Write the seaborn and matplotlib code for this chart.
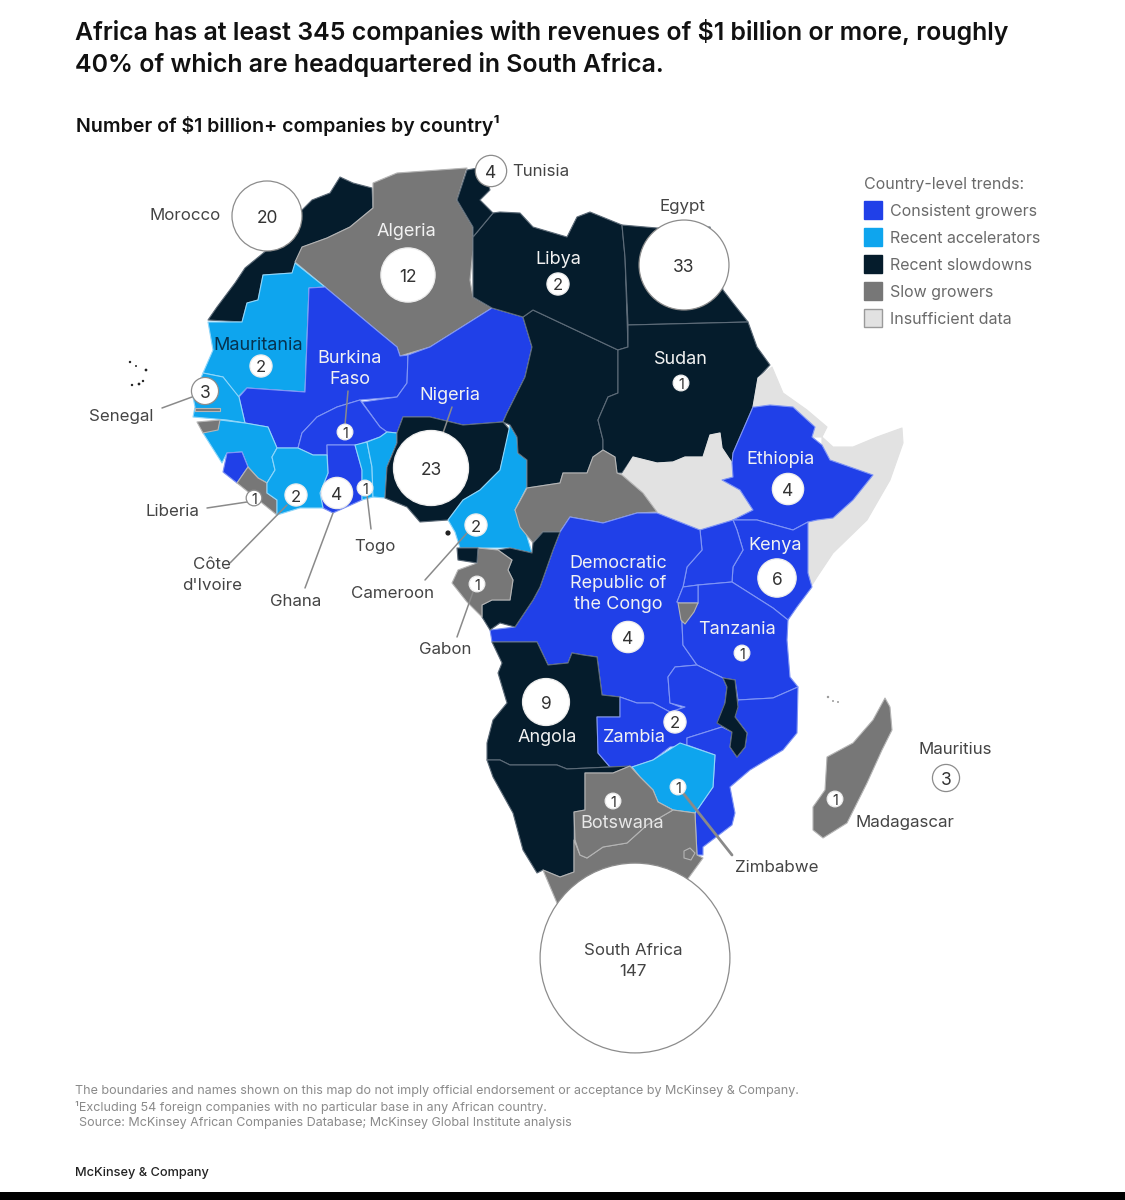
import matplotlib
matplotlib.use('Agg')
import matplotlib.pyplot as plt
from matplotlib.patches import Patch, Polygon
import pandas as pd
import seaborn as sns

# country outlines in image pixels
morocco = [(340,177),(353,183),(372,188),(373,208),(350,227),(327,238),(303,247),(297,263),(292,273),(263,275),(258,300),(247,303),(242,322),(208,320),(217,307),(235,283),(245,268),(267,250),(302,210),(312,200),(330,193)]
algeria = [(373,183),(397,173),(467,168),(457,200),(473,227),(473,250),(470,280),(473,297),(492,308),(457,330),(430,347),(400,356),(397,347),(380,333),(325,287),(295,262),(302,247),(327,238),(350,227),(373,208)]
mauritania = [(295,263),(325,287),(309,288),(305,392),(247,388),(238,397),(223,377),(203,373),(213,350),(208,322),(242,322),(247,303),(258,300),(263,275),(292,273)]
mali = [(309,288),(325,287),(380,333),(397,347),(400,356),(408,355),(407,383),(397,397),(360,400),(337,407),(317,417),(302,433),(298,448),(277,448),(268,427),(245,423),(239,397),(247,388),(305,392)]
niger = [(408,355),(430,347),(492,308),(523,317),(532,347),(525,377),(507,413),(503,422),(463,425),(430,417),(403,417),(397,433),(387,432),(380,427),(362,402),(397,397),(407,383)]
burkina = [(360,400),(380,427),(387,432),(380,437),(357,445),(327,445),(327,455),(313,455),(298,448),(302,433),(317,417),(337,407)]
ghana = [(327,445),(355,445),(362,470),(362,500),(333,513),(323,508),(320,493),(328,473)]
togo = [(355,445),(367,442),(372,467),(373,497),(362,500),(362,470)]
benin = [(367,442),(380,437),(387,432),(397,433),(397,443),(387,467),(385,498),(373,497),(372,467)]
nigeria = [(403,417),(430,417),(463,425),(503,422),(510,430),(500,470),(480,490),(463,500),(448,520),(420,522),(407,507),(385,498),(387,467),(397,443),(397,433)]
cameroon = [(510,425),(517,437),(518,453),(527,460),(527,487),(515,510),(523,523),(532,553),(510,548),(460,548),(455,532),(448,520),(463,500),(480,490),(500,470)]
chad = [(523,317),(533,310),(618,350),(618,393),(608,397),(598,420),(603,440),(603,450),(593,457),(587,473),(563,473),(560,483),(527,488),(527,460),(518,453),(517,437),(510,425),(503,422),(507,413),(525,377),(532,347)]
libya = [(492,308),(473,297),(473,250),(473,237),(493,213),(500,212),(520,213),(533,227),(567,237),(577,217),(590,212),(622,225),(625,257),(628,347),(618,350),(533,310),(523,317)]
tunisia = [(467,170),(483,167),(490,190),(480,200),(493,213),(473,237),(473,227),(457,200)]
egypt = [(622,225),(657,228),(710,227),(723,290),(733,303),(748,322),(628,325),(625,257)]
sudan = [(628,325),(748,322),(757,347),(770,365),(758,378),(753,407),(733,453),(732,463),(722,448),(720,433),(710,435),(703,457),(685,457),(673,462),(657,463),(633,457),(622,473),(617,473),(615,457),(603,450),(603,440),(598,420),(608,397),(618,393),(618,350),(628,347)]
south_sudan = [(622,475),(633,457),(657,463),(673,462),(685,457),(703,457),(710,435),(720,433),(722,448),(732,463),(733,477),(722,480),(740,490),(753,510),(733,520),(700,530),(657,513),(643,493)]
car = [(603,450),(615,457),(617,473),(622,475),(643,493),(657,512),(637,513),(603,523),(570,517),(560,532),(543,532),(533,543),(520,527),(515,510),(527,488),(560,483),(563,473),(587,473),(593,457)]
ethiopia = [(755,407),(770,405),(793,407),(815,427),(812,437),(822,445),(830,460),(873,475),(853,500),(833,518),(817,520),(808,522),(793,530),(757,520),(733,520),(753,510),(740,490),(722,480),(733,477),(732,463),(733,453),(753,407)]
eritrea = [(758,378),(772,367),(783,393),(807,410),(827,427),(822,437),(812,437),(815,427),(793,407),(770,405),(753,407)]
somalia = [(822,437),(833,447),(853,447),(877,437),(902,428),(903,443),(890,480),(867,520),(833,553),(817,577),(812,585),(808,573),(808,522),(817,520),(833,518),(853,500),(873,475),(830,460),(822,445)]
kenya = [(733,520),(757,520),(793,530),(808,522),(808,573),(812,587),(797,607),(788,620),(773,608),(732,582),(733,567),(743,550),(737,530)]
uganda = [(700,530),(733,520),(737,530),(743,550),(733,567),(732,582),(698,585),(683,587),(687,567),(702,550)]
tanzania = [(698,585),(732,582),(773,608),(788,620),(787,640),(790,677),(798,687),(773,698),(738,700),(735,680),(723,678),(697,665),(683,645),(682,623),(698,603)]
rwanda = [(683,587),(698,585),(698,603),(680,603),(677,602)]
burundi = [(678,603),(698,603),(694,612),(685,624),(681,620)]
drc = [(570,517),(603,523),(637,513),(657,513),(700,530),(702,550),(687,567),(683,587),(677,602),(680,603),(682,623),(683,645),(697,665),(675,667),(668,677),(670,703),(683,708),(685,715),(670,712),(653,703),(637,703),(620,697),(602,695),(597,657),(583,655),(572,653),(568,663),(548,665),(537,642),(492,642),(490,630),(515,627),(533,600),(540,587),(553,550),(560,532)]
congo = [(560,532),(553,550),(540,587),(533,600),(515,627),(500,623),(490,630),(482,617),(482,605),(492,600),(510,600),(513,580),(508,570),(512,560),(498,550),(510,548),(532,553),(533,543),(543,532)]
gabon = [(478,548),(498,550),(512,560),(508,570),(513,580),(510,600),(492,600),(482,605),(482,617),(467,602),(452,583),(458,570),(477,563)]
eq_guinea = [(457,548),(478,548),(477,563),(458,560)]
angola = [(492,642),(537,642),(548,665),(568,663),(572,653),(583,655),(597,657),(602,695),(620,697),(620,717),(597,717),(598,753),(610,767),(567,769),(557,765),(510,765),(500,760),(487,760),(487,743),(493,720),(507,703),(498,673),(502,663)]
zambia = [(620,697),(637,703),(653,703),(670,712),(685,707),(670,703),(668,677),(675,667),(697,665),(723,678),(727,687),(722,727),(687,738),(687,745),(670,747),(653,760),(632,767),(610,767),(598,753),(597,717),(620,717)]
malawi = [(723,678),(735,680),(738,707),(735,717),(747,733),(745,747),(737,757),(730,747),(732,732),(717,723),(725,703),(727,687)]
mozambique = [(738,700),(773,698),(798,687),(797,733),(783,750),(750,770),(730,787),(735,813),(732,825),(703,847),(703,855),(697,855),(695,813),(713,787),(715,755),(687,745),(687,738),(722,727),(732,732),(730,747),(737,757),(745,747),(747,733),(735,717)]
zimbabwe = [(632,767),(653,760),(680,743),(715,755),(713,787),(695,813),(673,810),(658,802),(653,790),(640,777)]
namibia = [(487,760),(500,760),(510,765),(557,765),(567,769),(610,767),(630,766),(613,773),(585,773),(585,810),(574,812),(574,872),(560,877),(543,870),(537,873),(523,850),(513,813),(493,777)]
botswana = [(585,773),(613,773),(630,766),(640,777),(653,790),(658,802),(673,810),(647,825),(627,843),(603,847),(587,858),(580,855),(575,840),(574,812),(585,810)]
south_africa = [(574,840),(580,855),(587,858),(603,847),(627,843),(647,825),(673,810),(695,813),(697,855),(703,858),(687,880),(640,920),(580,920),(557,903),(543,870),(560,877),(574,872)]
swaziland = [(684,851),(690,848),(695,853),(691,860),(684,858)]
senegal = [(203,373),(223,377),(239,397),(245,423),(227,420),(193,417),(195,407),(193,397)]
gambia = [(195,408),(220,408),(220,411),(195,411)]
guinea_bissau = [(197,422),(220,420),(218,430),(203,433)]
guinea = [(220,420),(245,423),(268,427),(277,448),(272,457),(275,470),(267,483),(258,478),(248,467),(242,452),(227,453),(222,463),(203,433)]
sierra_leone = [(227,453),(242,452),(248,467),(237,483),(223,472)]
liberia = [(237,483),(248,467),(258,478),(267,483),(267,493),(277,500),(277,515)]
cote_divoire = [(272,457),(277,448),(298,448),(313,455),(327,455),(328,473),(320,493),(323,508),(300,508),(277,515),(277,500),(267,493),(267,483),(275,470)]
madagascar = [(885,698),(890,707),(892,730),(882,750),(867,783),(847,823),(823,838),(813,830),(813,807),(825,790),(827,757),(853,743),(873,720)]

# company counts and where the circle sits
bubble_countries = ['Morocco','Tunisia','Algeria','Egypt','Libya','Mauritania','Sudan','Senegal','Burkina Faso','Nigeria','Ethiopia','Liberia',"Cote d'Ivoire",'Ghana','Togo','Cameroon','Gabon','Kenya','DRC','Tanzania','Zambia','Angola','Zimbabwe','Botswana','Madagascar','Mauritius','South Africa']
bubble_counts = [20,4,12,33,2,2,1,3,1,23,4,1,2,4,1,2,1,6,4,1,2,9,1,1,1,3,147]
bubble_x = [267,491,408,684,558,261,681,205,345,431,788,254,296,337,365,476,477,777,628,742,675,546,678,613,835,946,635]
bubble_y = [216,171,275,265,284,366,383,391,432,468,489,498,495,493,488,525,584,578,637,653,722,702,787,801,799,778,958]
outlined = ['Morocco','Tunisia','Egypt','Senegal','Liberia','Mauritius','South Africa']

legend_labels = ['Consistent growers','Recent accelerators','Recent slowdowns','Slow growers','Insufficient data']

blue = '#2040e8'
light = '#0ea5ee'
navy = '#051c2c'
grey = '#777777'
pale = '#e2e2e2'
edge_of = {blue: '#7f95f5', light: '#8fd6fa', navy: '#5d6b78', grey: '#b5b5b5', pale: '#e2e2e2'}

sns.set_theme(style='white')
plt.rcParams['font.family'] = ['Inter', 'DejaVu Sans']

fig, ax = plt.subplots(figsize=(11.25, 12), dpi=100)
fig.subplots_adjust(0, 0, 1, 1)
ax.set_xlim(0, 1125)
ax.set_ylim(1200, 0)
ax.axis('off')

map_shapes = [(morocco,navy),(algeria,grey),(mauritania,light),(mali,blue),(niger,blue),(burkina,blue),(ghana,blue),(togo,light),(benin,light),
              (nigeria,navy),(cameroon,light),(chad,navy),(libya,navy),(tunisia,navy),(egypt,navy),(sudan,navy),(south_sudan,pale),(car,grey),
              (eritrea,pale),(somalia,pale),(ethiopia,blue),(kenya,blue),(uganda,blue),(drc,blue),(tanzania,blue),(rwanda,blue),(burundi,grey),
              (congo,navy),(gabon,grey),(eq_guinea,navy),(angola,navy),(zambia,blue),(mozambique,blue),(malawi,navy),(zimbabwe,light),
              (namibia,navy),(south_africa,grey),(botswana,grey),(swaziland,grey),(senegal,light),(guinea,light),(gambia,grey),(guinea_bissau,grey),
              (sierra_leone,blue),(liberia,grey),(cote_divoire,light),(madagascar,grey)]
for shape, colour in map_shapes:
    ax.add_patch(Polygon(shape, closed=True, facecolor=colour, edgecolor=edge_of[colour], lw=0.8, joinstyle='round', zorder=1))

# small islands
ax.scatter([130,136,146,132,139,143,448], [362,366,370,385,384,381,533], s=[3,2,4,3,4,3,14], color='#222222', lw=0, zorder=1)
ax.scatter([828,833,838], [697,701,702], s=[3,2,2], color='#999999', lw=0, zorder=1)

# leader lines
leaders = [((192,397),(162,408)),((348,391),(345,425)),((452,407),(443,433)),((207,508),(247,502)),((230,563),(287,505)),
           ((305,588),(333,513)),((371,529),(367,495)),((425,580),(467,533)),((457,637),(473,592))]
for a, b in leaders:
    ax.plot([a[0], b[0]], [a[1], b[1]], color='#8a8a8a', lw=1.1, zorder=2)
ax.plot([732,683], [855,793], color='#8a8a8a', lw=2, zorder=2)

# circle area follows the count
bubbles = pd.DataFrame({'country': bubble_countries, 'companies': bubble_counts, 'x': bubble_x, 'y': bubble_y})
rim = ['#8c8c8c' if c in outlined else '#ececec' for c in bubble_countries]
sns.scatterplot(data=bubbles, x='x', y='y', size='companies', sizes=(127, 18680), size_norm=(1, 147),
                color='white', edgecolor=rim, linewidth=0.9, legend=False, ax=ax, zorder=3)
ax.set_xlabel('')
ax.set_ylabel('')
for c, x, y, n in zip(bubble_countries, bubble_x, bubble_y, bubble_counts):
    if c == 'South Africa':
        continue
    fs = 10.5 if n == 1 else 12 if n == 2 else 12.5
    ax.text(x, y + 0.5, str(n), ha='center', va='center_baseline', fontsize=fs, color='#333333', zorder=5)

dark = '#444444'
white = '#f2f2f2'
labels = [('Morocco',185,216,dark),('Tunisia',541,172,dark),('Algeria',406,232,white),('Egypt',682,206,dark),
          ('Libya',558,259,white),('Mauritania',258,345,'#06324f'),('Sudan',681,360,white),('Senegal',121,416,dark),
          ('Burkina\nFaso',350,369,white),('Nigeria',450,395,white),('Ethiopia',781,459,white),('Liberia',172,512,dark),
          ("Côte\nd'Ivoire",212,575,dark),('Togo',375,546,dark),('Ghana',296,602,dark),('Cameroon',392,594,dark),
          ('Gabon',445,650,dark),('Kenya',775,545,white),('Democratic\nRepublic of\nthe Congo',618,584,white),
          ('Tanzania',737,630,white),('Zambia',634,738,white),('Angola',547,738,white),('Botswana',622,823,'#e8e8e8'),
          ('Zimbabwe',777,868,dark),('Madagascar',905,822,dark),('Mauritius',955,749,dark)]
for name, x, y, col in labels:
    fs = 12.2 if col == dark else 13
    ax.text(x, y, name, ha='center', va='center', fontsize=fs, color=col, linespacing=1.42 if col == dark else 1.3, zorder=6)
ax.text(633, 961, 'South Africa\n147', ha='center', va='center', fontsize=12.2, color=dark, linespacing=1.42, zorder=6)

ax.text(75, 48, 'Africa has at least 345 companies with revenues of $1 billion or more, roughly\n40% of which are headquartered in South Africa.',
        ha='left', va='center', fontsize=17.95, fontweight='semibold', color='#111111', linespacing=1.31)
ax.text(76, 125, 'Number of $1 billion+ companies by country¹', ha='left', va='center', fontsize=14.05, fontweight='semibold', color='#111111')

handles = [Patch(facecolor=c, edgecolor=e) for c, e in zip([blue, light, navy, grey, pale], [blue, light, navy, grey, '#9a9a9a'])]
leg = ax.legend(handles, legend_labels, title='Country-level trends:', loc='upper left', bbox_to_anchor=(850/1125, 1-163/1200),
                frameon=False, fontsize=11.5, title_fontsize=11.5, alignment='left', handlelength=1.13, handleheight=1.36,
                labelspacing=0.56, handletextpad=0.5, labelcolor='#6a6a6a')
leg.get_title().set_color('#6a6a6a')

ax.text(75, 1091, 'The boundaries and names shown on this map do not imply official endorsement or acceptance by McKinsey & Company.', fontsize=9.02, color='#8a8a8a', va='center')
ax.text(75, 1107, '¹Excluding 54 foreign companies with no particular base in any African country.', fontsize=9.02, color='#8a8a8a', va='center')
ax.text(79, 1123, 'Source: McKinsey African Companies Database; McKinsey Global Institute analysis', fontsize=9.02, color='#8a8a8a', va='center')
ax.text(75, 1173, 'McKinsey & Company', fontsize=9.2, fontweight='medium', color='#222222', va='center')

ax.axhspan(1192, 1200, color='black', lw=0, zorder=7)

fig.savefig('out.png', dpi=100)
plt.close(fig)
